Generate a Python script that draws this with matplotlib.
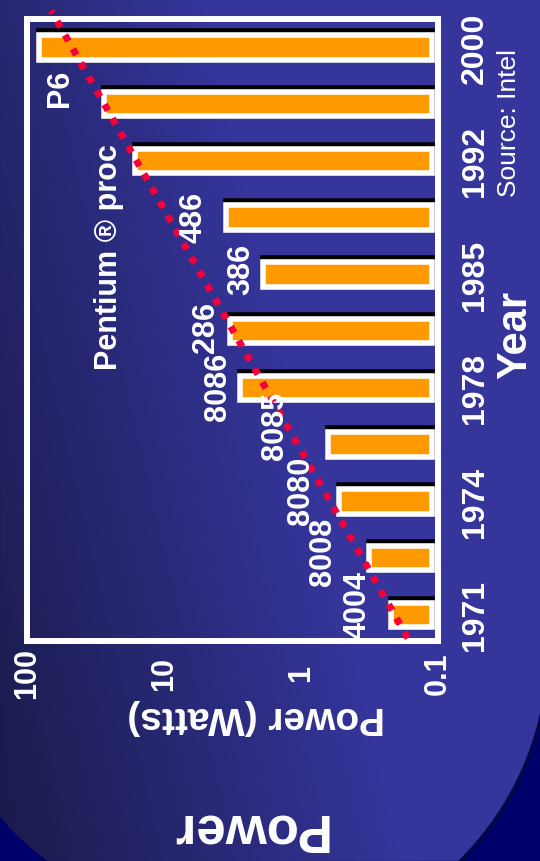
import numpy as np
import matplotlib.pyplot as plt
from matplotlib.path import Path
from matplotlib.patches import PathPatch
from matplotlib.ticker import NullLocator

plt.rcParams['font.family'] = ['Liberation Sans', 'DejaVu Sans']

# bars, bottom (1971) to top (2000)
chips = ['4004', '8008', '8080', '8085', '8086', '286', '386', '486',
         'Pentium', 'Pentium Pro', 'P6']
watts = [0.22, 0.32, 0.53, 0.64, 2.8, 3.3, 1.9, 3.5, 16.3, 27.4, 82]

year_ticks = [0, 2, 4, 6, 8, 10]
year_labels = ['1971', '1974', '1978', '1985', '1992', '2000']
power_ticks = [100, 10, 1, 0.1]
power_labels = ['100', '10', '1', '0.1']

# dotted trend line end points (category position, watts)
trend_pos = [-0.41, 10.65]
trend_watts = [0.166, 66.7]

# chip names written next to the bars
chip_names = ['4004', '8008', '8080', '8085', '8086', '286', '386', '486',
              'Pentium ® proc', 'P6']
# where they sit: (category position, watts)
name_pos = [(0.19, 0.384), (1.13, 0.69), (2.21, 1.0), (3.34, 1.55),
            (4.03, 4.03), (5.09, 4.93), (6.11, 2.74), (7.03, 6.14),
            (6.33, 25.2), (9.29, 57.4)]

W, H = 540, 862
fig = plt.figure(figsize=(W / 100, H / 100), dpi=100)
fig.patch.set_facecolor('#00006a')

# slide background: gradient shape with rounded bottom corners
bg = fig.add_axes([0, 0, 1, 1])
bg.set_xlim(0, W)
bg.set_ylim(H, 0)
bg.axis('off')

th_r = np.radians(np.linspace(12.4, 45.5, 40))
th_l = np.radians(np.linspace(125.6, 140.0, 20))
verts = [(0, 0), (W, 0)]
verts += list(zip(250 + 297 * np.cos(th_r), 650 + 297 * np.sin(th_r)))
verts += list(zip(200 + 261 * np.cos(th_l), 650 + 261 * np.sin(th_l)))
verts += [(0, 0)]
shape = PathPatch(Path(verts, closed=True), facecolor='none', edgecolor='none')
bg.add_patch(shape)

yy, xx = np.mgrid[0:H, 0:W]
t = np.clip(xx / 400 + (H - yy) / H * 0.5, 0, 1)[..., None]
c0 = np.array([0x1a, 0x1a, 0x4a]) / 255
c1 = np.array([0x35, 0x35, 0x9b]) / 255
img = c0 * (1 - t) + c1 * t
im = bg.imshow(img, extent=(0, W, H, 0), aspect='auto')
im.set_clip_path(shape)
bg.plot(250 + 299 * np.cos(th_r), 650 + 299 * np.sin(th_r), color='#0a0a30', lw=1.5)

# chart
ax = fig.add_axes([27 / W, (H - 642) / H, 411 / W, 622.5 / H])
ax.set_facecolor('none')
ax.set_xscale('log')
ax.set_xlim(100, 0.1)
ax.set_ylim(-0.46, 10.51)

pos = np.arange(len(chips))
base = 0.11
vals = np.array(watts)
ax.barh(pos + 0.07, vals - base, left=base, height=0.434, color='black',
        edgecolor='black', linewidth=4, zorder=2)
ax.barh(pos, vals - base, left=base, height=0.434, color='#ff9900',
        edgecolor='white', linewidth=4, zorder=3)

ax.plot(trend_watts, trend_pos, color='#f5003a', lw=5, linestyle=(0, (1, 1.3)),
        clip_on=False, zorder=4)

for name, (p, w) in zip(chip_names, name_pos):
    ax.text(w, p, name, rotation=90, ha='center', va='center', color='white',
            fontsize=22, fontweight='bold', zorder=5)

for s in ax.spines.values():
    s.set_color('white')
    s.set_linewidth(4.3)

ax.xaxis.set_minor_locator(NullLocator())
ax.set_xticks(power_ticks, power_labels, rotation=90, va='center',
              fontweight='bold')
ax.tick_params(axis='x', length=0, pad=23, colors='white', labelsize=22)

ax.yaxis.tick_right()
ax.set_yticks(year_ticks, year_labels, rotation=90, va='center',
              fontweight='bold')
ax.tick_params(axis='y', length=0, pad=16, colors='white', labelsize=23)

fig.text(515 / W, 1 - 335 / H, 'Year', rotation=90, ha='center', va='center',
         color='white', fontsize=30, fontweight='bold')
fig.text(509 / W, 1 - 123 / H, 'Source: Intel', rotation=90, ha='center',
         va='center', color='white', fontsize=19)
fig.text(256 / W, 1 - 717 / H, 'Power (Watts)', rotation=180, ha='center',
         va='center', color='white', fontsize=28, fontweight='bold')
fig.text(248 / W, 1 - 829 / H, 'Power', rotation=180, ha='center',
         va='center', color='white', fontsize=38, fontweight='bold')

fig.savefig('out.png', dpi=100, facecolor=fig.get_facecolor())
